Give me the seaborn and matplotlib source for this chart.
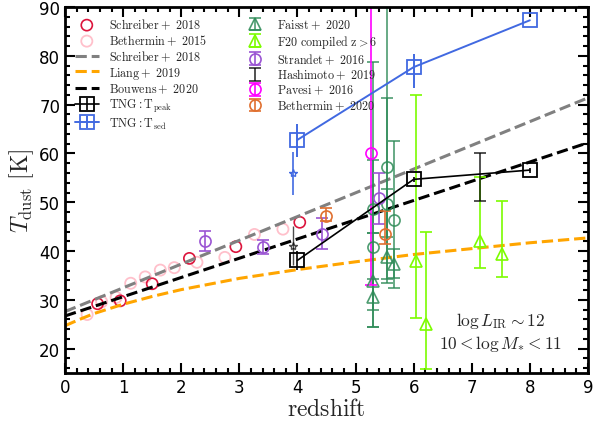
import numpy as np
import pandas as pd
import matplotlib
matplotlib.use("Agg")
import matplotlib.pyplot as plt
import seaborn as sns

# ---------------- data ----------------
# relations
schreiber_line_z = [0.0, 9.0]
schreiber_line_T = [27.6, 71.4]
bouwens_line_z = [0.0, 9.0]
bouwens_line_T = [26.7, 62.2]
liang_z = [0.0, 0.25, 0.5, 1.0, 1.5, 2.0, 3.0, 4.0, 5.0, 6.0, 7.0, 8.0, 9.0]
liang_T = [24.7, 26.0, 27.2, 29.1, 30.7, 32.1, 34.4, 36.2, 37.8, 39.3, 40.5, 41.7, 42.7]

# Schreiber+2018 points
schreiber_z = [0.56, 0.95, 1.50, 2.14, 2.94, 4.04]
schreiber_T = [29.2, 29.8, 33.3, 38.5, 40.9, 45.9]
# Bethermin+2015 points
beth15_z = [0.38, 0.63, 0.88, 1.13, 1.38, 1.64, 1.88, 2.27, 2.75, 3.26, 3.75]
beth15_T = [27.0, 29.6, 30.5, 33.4, 34.7, 36.1, 36.6, 37.7, 38.7, 43.4, 44.5]

# Faisst+2020 (triangles and circles)
faisst_tri_z = [5.30, 5.30, 5.55, 5.67]
faisst_tri_T = [33.9, 30.6, 38.7, 37.4]
faisst_tri_lo = [5.9, 6.2, 5.2, 3.0]
faisst_tri_hi = [9.8, 3.6, 14.0, 3.0]
faisst_cir_z = [5.30, 5.30, 5.55, 5.55, 5.67]
faisst_cir_T = [48.6, 40.9, 57.3, 49.6, 46.3]
faisst_cir_lo = [4.9, 16.5, 14.4, 15.4, 13.8]
faisst_cir_hi = [30.1, 17.7, 40.0, 21.7, 16.2]

# F20 compiled z>6
f20_z = [6.04, 6.21, 7.15, 7.52]
f20_T = [38.0, 25.0, 42.1, 39.3]
f20_lo = [11.8, 9.1, 5.5, 4.7]
f20_hi = [33.9, 19.0, 13.0, 10.9]

# Strandet+2016
strandet_z = [2.41, 3.40, 4.42, 5.40]
strandet_T = [42.1, 40.9, 43.6, 50.8]
strandet_lo = [2.1, 1.4, 3.2, 5.3]
strandet_hi = [2.0, 1.3, 3.1, 5.1]

# Hashimoto+2019
hashi_z = [7.15]
hashi_T = [55.1]
hashi_err = [4.9]

# Pavesi+2016
pavesi_z = [5.26]
pavesi_T = [60.2]
pavesi_lo = [27.1]
pavesi_hi = [40.0]

# Bethermin+2020
beth20_z = [4.50, 5.50]
beth20_T = [47.2, 43.4]
beth20_lo = [1.0, 2.0]
beth20_hi = [1.7, 4.9]

# TNG
tng_z = [4.0, 6.0, 8.0]
tng_peak_T = [38.1, 54.7, 56.6]
tng_peak_err = [2.0, 0.5, 0.5]
tng_sed_T = [62.8, 77.7, 87.3]
tng_sed_lo = [3.6, 4.3, 0.0]
tng_sed_hi = [3.2, 2.6, 0.0]
star_z = [3.92]
star_sed_T = [55.9]
star_sed_err = [4.4]
star_peak_T = [41.1]
star_peak_err = [4.0]

# ---------------- style ----------------
sns.set_style("ticks")
plt.rcParams["font.family"] = ["DejaVu Sans"]
plt.rcParams["mathtext.fontset"] = "cm"

fig = plt.figure(figsize=(6.08, 4.27), dpi=100)
ax = fig.add_axes([0.107, 0.124, 0.860, 0.857])

lw_rel = 2.2
sns.lineplot(x=schreiber_line_z, y=schreiber_line_T, ax=ax, color="grey", lw=lw_rel, ls="--")
h_sl = ax.lines[-1]
sns.lineplot(x=liang_z, y=liang_T, ax=ax, color="orange", lw=lw_rel, ls="--")
h_li = ax.lines[-1]
sns.lineplot(x=bouwens_line_z, y=bouwens_line_T, ax=ax, color="black", lw=lw_rel, ls="--")
h_bo = ax.lines[-1]

sns.scatterplot(x=beth15_z, y=beth15_T, ax=ax, marker="o", s=64,
                facecolor="none", edgecolor="pink", linewidth=1.3)
h_b15 = ax.collections[-1]
sns.scatterplot(x=schreiber_z, y=schreiber_T, ax=ax, marker="o", s=64,
                facecolor="none", edgecolor="crimson", linewidth=1.2)
h_s18 = ax.collections[-1]

ekw = dict(capsize=4, elinewidth=1.2, capthick=1.2, ms=8, mew=1.2, mfc="none", ls="none")

h_fa = ax.errorbar(faisst_tri_z, faisst_tri_T, yerr=[faisst_tri_lo, faisst_tri_hi],
                   fmt="^", color="seagreen", alpha=0.85, **ekw)
ax.errorbar(faisst_cir_z, faisst_cir_T, yerr=[faisst_cir_lo, faisst_cir_hi],
            fmt="o", color="seagreen", alpha=0.85, **ekw)
h_f20 = ax.errorbar(f20_z, f20_T, yerr=[f20_lo, f20_hi], fmt="^", color="lawngreen", **ekw)
h_st = ax.errorbar(strandet_z, strandet_T, yerr=[strandet_lo, strandet_hi], fmt="o",
                   color="#9b55d3", **ekw)
h_ha = ax.errorbar(hashi_z, hashi_T, yerr=hashi_err, fmt="none", color="black", alpha=0.8,
                   capsize=4, elinewidth=1.2, capthick=1.2)
h_pa = ax.errorbar(pavesi_z, pavesi_T, yerr=[pavesi_lo, pavesi_hi], fmt="o", color="magenta", **ekw)
h_b20 = ax.errorbar(beth20_z, beth20_T, yerr=[beth20_lo, beth20_hi], fmt="o", color="#e07030", **ekw)

h_tp = ax.errorbar(tng_z, tng_peak_T, yerr=tng_peak_err, fmt="s-", color="black", lw=1.2,
                   ms=10, mfc="none", mew=1.3, elinewidth=1.2)
h_ts = ax.errorbar(tng_z, tng_sed_T, yerr=[tng_sed_lo, tng_sed_hi], fmt="s-", color="royalblue",
                   lw=1.4, ms=10, mfc="none", mew=1.3, elinewidth=1.4)
ax.errorbar(star_z, star_sed_T, yerr=star_sed_err, fmt="*", color="royalblue", ms=6,
            mfc="none", mew=1.0, elinewidth=1.2)
ax.errorbar(star_z, star_peak_T, yerr=star_peak_err, fmt="*", color="black", ms=6,
            mfc="none", mew=1.0, elinewidth=1.0, alpha=0.7)

ax.set_xlim(0, 9)
ax.set_ylim(15, 90)
ax.set_xticks(np.arange(0, 10, 1))
ax.set_yticks(np.arange(20, 91, 10))
ax.xaxis.set_minor_locator(matplotlib.ticker.MultipleLocator(0.2))
ax.yaxis.set_minor_locator(matplotlib.ticker.MultipleLocator(2))
ax.tick_params(which="both", direction="in", top=True, right=True, width=1.5, colors="black")
ax.tick_params(which="major", length=7, labelsize=12)
ax.tick_params(which="minor", length=3.5)
for s in ax.spines.values():
    s.set_linewidth(2)
    s.set_color("black")

ax.set_xlabel(r"$\rm redshift$", fontsize=17, labelpad=0)
ax.set_ylabel(r"$T_{\rm dust}\ [\rm K]$", fontsize=17, labelpad=2)

ax.text(7.49, 25.9, r"$\log L_{\rm IR}\sim 12$", fontsize=12.5, ha="center", va="center")
ax.text(7.49, 21.2, r"$10<\log M_{*}<11$", fontsize=12.5, ha="center", va="center")

handles = [h_s18, h_b15, h_sl, h_li, h_bo, h_tp, h_ts,
           h_fa, h_f20, h_st, h_ha, h_pa, h_b20]
labels = [r"$\rm Schreiber+\ 2018$", r"$\rm Bethermin+\ 2015$", r"$\rm Schreiber+\ 2018$",
          r"$\rm Liang+\ 2019$", r"$\rm Bouwens+\ 2020$", r"$\rm TNG: T_{peak}$",
          r"$\rm TNG: T_{sed}$",
          r"$\rm Faisst+\ 2020$", r"$\rm F20\ compiled\ z>6$", r"$\rm Strandet+\ 2016$",
          r"$\rm Hashimoto+\ 2019$", r"$\rm Pavesi+\ 2016$", r"$\rm Bethermin+\ 2020$"]
leg = ax.legend(handles, labels, loc="upper left", ncol=2, frameon=False, fontsize=8.7,
                handlelength=2.0, columnspacing=3.0, labelspacing=0.12, borderaxespad=0.4)

fig.savefig("out.png", dpi=100)
